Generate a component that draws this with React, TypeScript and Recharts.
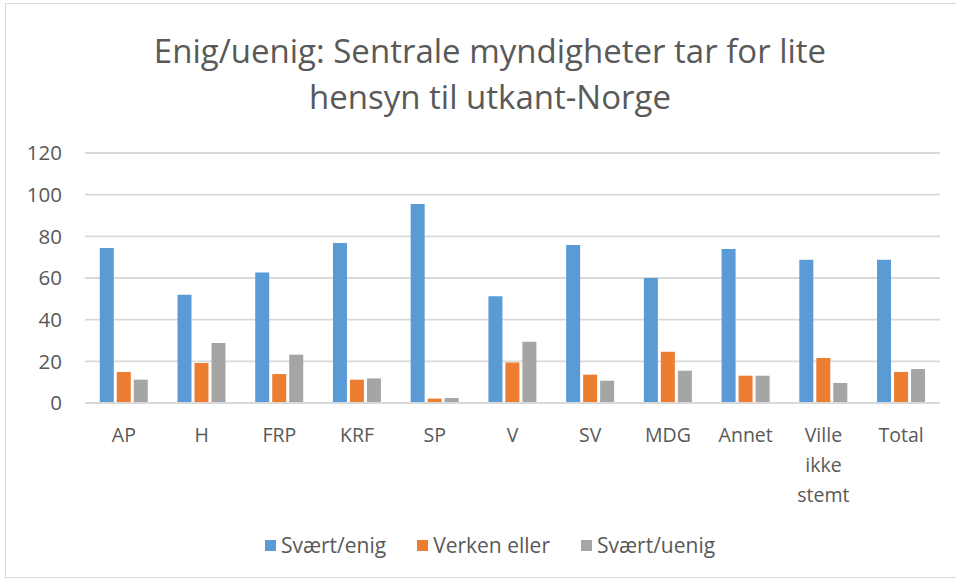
import React from "react";
import { BarChart, Bar, XAxis, YAxis, CartesianGrid, Legend } from "recharts";

const parties = ["AP", "H", "FRP", "KRF", "SP", "V", "SV", "MDG", "Annet", "Ville ikke stemt", "Total"];
const enig = [74.4, 52, 62.7, 76.8, 95.5, 51.2, 75.8, 60, 73.9, 68.8, 68.8];
const verken = [14.9, 19.2, 13.9, 11.2, 2.1, 19.5, 13.6, 24.6, 13.1, 21.6, 14.9];
const uenig = [11.2, 28.8, 23.2, 11.8, 2.4, 29.4, 10.7, 15.5, 13.1, 9.6, 16.3];
const yTicks = [0, 20, 40, 60, 80, 100, 120];
const seriesNames = ["Svært/enig", "Verken eller", "Svært/uenig"];
const seriesColors = ["#5B9BD5", "#ED7D31", "#A5A5A5"];

const data = parties.map((p, i) => ({
    party: p,
    enig: enig[i],
    verken: verken[i],
    uenig: uenig[i],
}));

const FONT = "'Open Sans', 'Liberation Sans', sans-serif";
const TEXT = "#595959";

function PartyTick({ x, y, payload }: any) {
    const lines = String(payload.value).split(" ");
    return (
        <text x={x} y={y} textAnchor="middle" fill={TEXT} fontSize={19.5} fontFamily={FONT}>
            {lines.map((l, i) => (
                <tspan key={i} x={x} dy={i === 0 ? 39 : 30}>
                    {l}
                </tspan>
            ))}
        </text>
    );
}

function LegendRow() {
    return (
        <div style={{ display: "flex", justifyContent: "center", alignItems: "center", gap: 31 }}>
            {seriesNames.map((n, i) => (
                <div key={n} style={{ display: "flex", alignItems: "center" }}>
                    <span
                        style={{
                            display: "inline-block",
                            width: 11,
                            height: 11,
                            background: seriesColors[i],
                            marginRight: 5,
                        }}
                    />
                    <span style={{ color: TEXT, fontSize: 21, fontFamily: FONT }}>{n}</span>
                </div>
            ))}
        </div>
    );
}

export default function App() {
    return (
        <div
            style={{
                position: "absolute",
                left: 0,
                top: 0,
                width: 956,
                height: 579,
                overflow: "hidden",
                background: "#fff",
                fontFamily: FONT,
            }}
        >
            <div
                style={{
                    position: "absolute",
                    left: 5,
                    top: 3,
                    width: 960,
                    height: 573,
                    border: "1px solid #d9d9d9",
                }}
            />
            <div
                style={{
                    position: "absolute",
                    left: 0,
                    top: 28,
                    width: 980,
                    textAlign: "center",
                    fontSize: 33,
                    lineHeight: "46px",
                    color: TEXT,
                }}
            >
                Enig/uenig: Sentrale myndigheter tar for lite
                <br />
                hensyn til utkant-Norge
            </div>
            <div style={{ position: "absolute", left: 0, top: 0 }}>
                <BarChart
                    width={956}
                    height={579}
                    data={data}
                    margin={{ top: 153, right: 16, left: 0, bottom: 116 }}
                    barCategoryGap="19%"
                    barGap={3}
                >
                    <CartesianGrid vertical={false} stroke="#d9d9d9" strokeWidth={1.8} />
                    <XAxis
                        dataKey="party"
                        height={60}
                        interval={0}
                        tickLine={false}
                        tickSize={0}
                        tickMargin={0}
                        axisLine={{ stroke: "#d9d9d9", strokeWidth: 1.8 }}
                        tick={<PartyTick />}
                    />
                    <YAxis
                        width={85}
                        domain={[0, 120]}
                        ticks={yTicks}
                        axisLine={false}
                        tickLine={false}
                        tickSize={0}
                        tickMargin={23}
                        tick={{ fontSize: 20.5, fill: TEXT, fontFamily: FONT }}
                    />
                    <Legend
                        verticalAlign="middle"
                        align="center"
                        layout="horizontal"
                        wrapperStyle={{ top: 531, left: 0, width: 980 }}
                        content={() => <LegendRow />}
                    />
                    <Bar dataKey="enig" name={seriesNames[0]} fill={seriesColors[0]} isAnimationActive={false} />
                    <Bar dataKey="verken" name={seriesNames[1]} fill={seriesColors[1]} isAnimationActive={false} />
                    <Bar dataKey="uenig" name={seriesNames[2]} fill={seriesColors[2]} isAnimationActive={false} />
                </BarChart>
            </div>
        </div>
    );
}
